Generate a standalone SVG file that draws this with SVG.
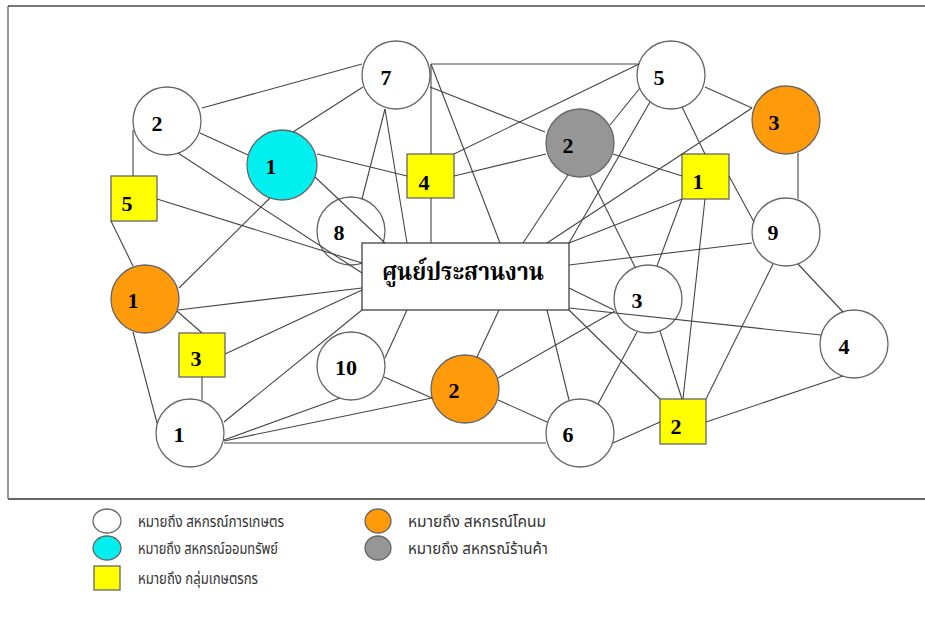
<svg xmlns="http://www.w3.org/2000/svg" width="925" height="621" viewBox="0 0 925 621">
<style>
.n{stroke:#666;stroke-width:1.3}
.w{fill:#fff}
.c{fill:#00f0f0}
.o{fill:#ff9a0a}
.g{fill:#969696}
.y{fill:#ffff00}
.lb{font-family:"Liberation Serif","Times New Roman",serif;font-weight:bold;font-size:22px;fill:#000;text-anchor:middle}
.ct{font-family:"Liberation Serif","Noto Serif Thai","Noto Sans Thai",serif;font-weight:bold;font-size:25px;fill:#000;text-anchor:middle}
.lg{font-family:"Noto Sans Thai","Liberation Sans",sans-serif;font-size:15px;fill:#333}
#edges line{stroke:#444;stroke-width:1.1}
</style>
<rect x="0" y="0" width="925" height="621" fill="#fff"/>
<g id="frame">
<line x1="8" y1="6" x2="925" y2="6" stroke="#777" stroke-width="2"/>
<line x1="8" y1="6" x2="8" y2="499" stroke="#333" stroke-width="1"/>
<line x1="8" y1="499" x2="925" y2="499" stroke="#666" stroke-width="2"/>
</g>
<g id="nodes">
<g id="n-2a"><circle class="n w" cx="167" cy="121" r="34"/><text class="lb" x="157" y="131">2</text></g>
<g id="n-cyan1"><circle class="n c" cx="282" cy="165" r="35"/><text class="lb" x="271" y="174">1</text></g>
<g id="n-sq5"><rect class="n y" x="111" y="176" width="46" height="45"/><text class="lb" x="127" y="211">5</text></g>
<g id="n-7"><circle class="n w" cx="396" cy="75" r="34"/><text class="lb" x="386" y="85">7</text></g>
<g id="n-sq4"><rect class="n y" x="407" y="154" width="47" height="44"/><text class="lb" x="424" y="190">4</text></g>
<g id="n-gray2"><circle class="n g" cx="580" cy="143" r="34"/><text class="lb" x="568" y="153">2</text></g>
<g id="n-8"><circle class="n w" cx="351" cy="231" r="34"/><text class="lb" x="339" y="240">8</text></g>
<g id="n-5"><circle class="n w" cx="671" cy="75" r="34"/><text class="lb" x="659" y="85">5</text></g>
<g id="n-or3"><circle class="n o" cx="786" cy="120" r="34"/><text class="lb" x="774" y="130">3</text></g>
<g id="n-sq1"><rect class="n y" x="682" y="154" width="47" height="45"/><text class="lb" x="698" y="189">1</text></g>
<g id="n-9"><circle class="n w" cx="786" cy="232" r="34"/><text class="lb" x="773" y="240">9</text></g>
<g id="n-or1"><circle class="n o" cx="145" cy="299" r="34"/><text class="lb" x="133" y="308">1</text></g>
<g id="n-sq3"><rect class="n y" x="179" y="333" width="46" height="44"/><text class="lb" x="196" y="366">3</text></g>
<g id="n-1"><circle class="n w" cx="190" cy="433" r="34"/><text class="lb" x="179" y="442">1</text></g>
<g id="n-10"><circle class="n w" cx="351" cy="366" r="34"/><text class="lb" x="346" y="375">10</text></g>
<g id="n-or2"><circle class="n o" cx="465" cy="389" r="34"/><text class="lb" x="454" y="398">2</text></g>
<g id="n-6"><circle class="n w" cx="580" cy="433" r="34"/><text class="lb" x="568" y="442">6</text></g>
<g id="n-3"><circle class="n w" cx="648" cy="299" r="34"/><text class="lb" x="637" y="308">3</text></g>
<g id="n-4"><circle class="n w" cx="854" cy="344" r="34"/><text class="lb" x="844" y="354">4</text></g>
<g id="n-sq2"><rect class="n y" x="660" y="399" width="46" height="45"/><text class="lb" x="676" y="434">2</text></g>
<g id="n-center"><rect x="362" y="243" width="207" height="67" fill="#fff" stroke="#333" stroke-width="1.2"/><text class="ct" x="463" y="280" textLength="162" lengthAdjust="spacingAndGlyphs">ศูนย์ประสานงาน</text></g>
</g>
<g id="edges">
<line x1="202" y1="108" x2="362" y2="64"/>
<line x1="200" y1="133" x2="248" y2="155"/>
<line x1="133" y1="130" x2="133" y2="176"/>
<line x1="178" y1="153" x2="362" y2="273"/>
<line x1="157" y1="199" x2="362" y2="263"/>
<line x1="111" y1="221" x2="133" y2="266"/>
<line x1="293" y1="132" x2="363" y2="87"/>
<line x1="317" y1="154" x2="407" y2="176"/>
<line x1="270" y1="198" x2="179" y2="288"/>
<line x1="315" y1="177" x2="385" y2="243"/>
<line x1="431" y1="64" x2="639" y2="64"/>
<line x1="431" y1="64" x2="431" y2="154"/>
<line x1="431" y1="198" x2="431" y2="243"/>
<line x1="430" y1="87" x2="545" y2="132"/>
<line x1="431" y1="64" x2="500" y2="243"/>
<line x1="385" y1="109" x2="362" y2="199"/>
<line x1="385" y1="109" x2="407" y2="243"/>
<line x1="454" y1="176" x2="546" y2="154"/>
<line x1="454" y1="154" x2="639" y2="64"/>
<line x1="610" y1="125" x2="640" y2="88"/>
<line x1="568" y1="175" x2="523" y2="243"/>
<line x1="590" y1="176" x2="635" y2="267"/>
<line x1="613" y1="154" x2="682" y2="176"/>
<line x1="650" y1="102" x2="569" y2="243"/>
<line x1="705" y1="87" x2="752" y2="108"/>
<line x1="752" y1="108" x2="547" y2="243"/>
<line x1="682" y1="107" x2="705" y2="154"/>
<line x1="798" y1="153" x2="798" y2="199"/>
<line x1="682" y1="199" x2="569" y2="243"/>
<line x1="729" y1="176" x2="754" y2="222"/>
<line x1="682" y1="199" x2="657" y2="266"/>
<line x1="705" y1="199" x2="683" y2="399"/>
<line x1="752" y1="243" x2="569" y2="265"/>
<line x1="798" y1="264" x2="843" y2="312"/>
<line x1="773" y1="264" x2="706" y2="399"/>
<line x1="569" y1="288" x2="614" y2="310"/>
<line x1="569" y1="308" x2="821" y2="335"/>
<line x1="569" y1="310" x2="660" y2="399"/>
<line x1="547" y1="310" x2="569" y2="400"/>
<line x1="499" y1="310" x2="477" y2="357"/>
<line x1="407" y1="310" x2="385" y2="358"/>
<line x1="362" y1="310" x2="224" y2="422"/>
<line x1="178" y1="310" x2="362" y2="288"/>
<line x1="225" y1="354" x2="362" y2="290"/>
<line x1="177" y1="311" x2="202" y2="333"/>
<line x1="133" y1="332" x2="157" y2="423"/>
<line x1="202" y1="377" x2="202" y2="400"/>
<line x1="224" y1="440" x2="340" y2="398"/>
<line x1="224" y1="441" x2="432" y2="398"/>
<line x1="224" y1="443" x2="546" y2="443"/>
<line x1="384" y1="377" x2="432" y2="398"/>
<line x1="498" y1="378" x2="615" y2="311"/>
<line x1="498" y1="400" x2="547" y2="422"/>
<line x1="637" y1="332" x2="598" y2="404"/>
<line x1="660" y1="331" x2="682" y2="399"/>
<line x1="613" y1="443" x2="660" y2="422"/>
<line x1="706" y1="422" x2="843" y2="376"/>
</g>
<g id="legend">
<ellipse class="n w" cx="107" cy="521" rx="14" ry="12"/>
<text class="lg" x="138" y="527" textLength="146" lengthAdjust="spacingAndGlyphs">หมายถึง สหกรณ์การเกษตร</text>
<ellipse class="n c" cx="107" cy="548" rx="14" ry="12"/>
<text class="lg" x="138" y="554" textLength="140" lengthAdjust="spacingAndGlyphs">หมายถึง สหกรณ์ออมทรัพย์</text>
<rect class="n y" x="94" y="566" width="26" height="24"/>
<text class="lg" x="138" y="584" textLength="120" lengthAdjust="spacingAndGlyphs">หมายถึง กลุ่มเกษตรกร</text>
<ellipse class="n o" cx="378" cy="521" rx="13" ry="12"/>
<text class="lg" x="408" y="527" textLength="138" lengthAdjust="spacingAndGlyphs">หมายถึง สหกรณ์โคนม</text>
<ellipse class="n g" cx="378" cy="548" rx="13" ry="12"/>
<text class="lg" x="408" y="554" textLength="140" lengthAdjust="spacingAndGlyphs">หมายถึง สหกรณ์ร้านค้า</text>
</g>
</svg>
